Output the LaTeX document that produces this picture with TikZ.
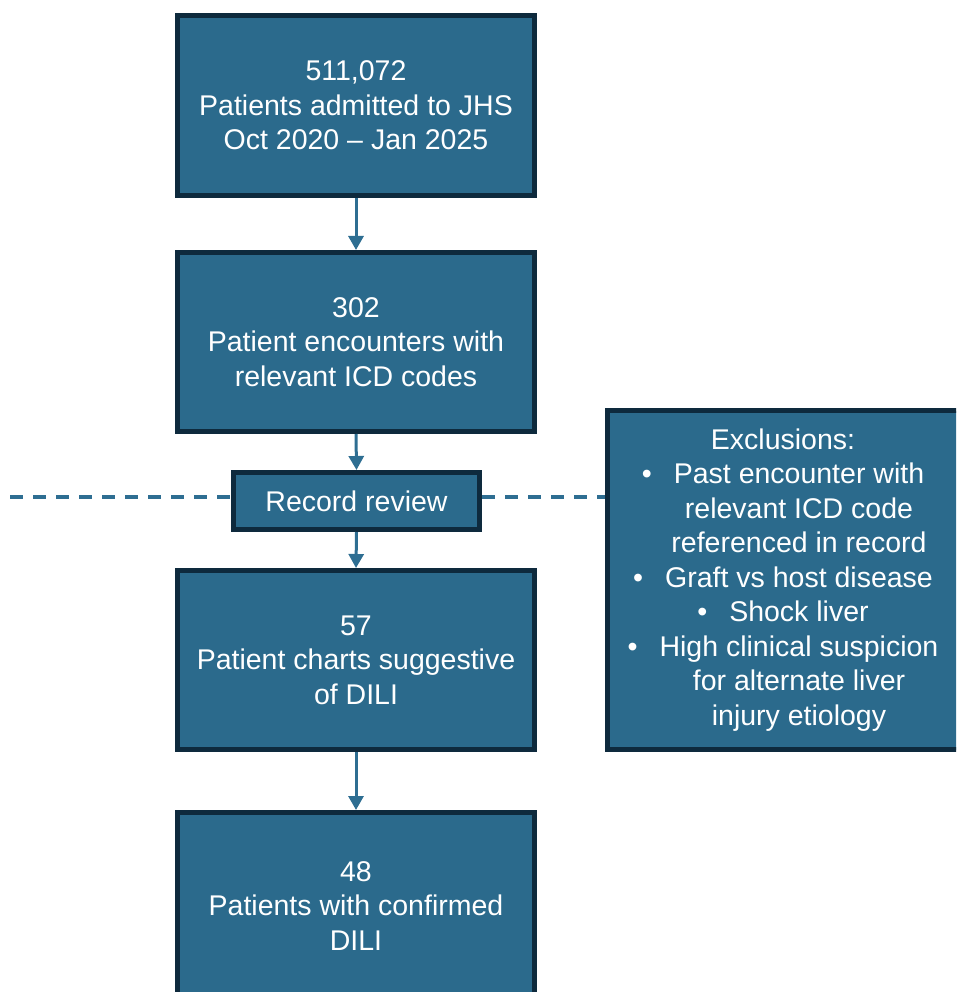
\documentclass[tikz,border=0pt]{standalone}
\usepackage{fontspec}
\setmainfont{Liberation Sans}
\usetikzlibrary{arrows.meta}
\definecolor{boxfill}{HTML}{2B6A8C}
\definecolor{boxline}{HTML}{0E2A3D}
\definecolor{arrowc}{HTML}{2E6E92}
\tikzset{
  flowbox/.style={draw=boxline, line width=5pt, fill=boxfill, text=white,
    align=center, inner sep=0pt, font=\fontsize{28.5}{34.5}\selectfont},
  flowarrow/.style={draw=arrowc, line width=3pt, -{Triangle[width=15pt,length=14pt]}},
  dashline/.style={draw=arrowc, line width=3.5pt, dash pattern=on 13pt off 10pt}
}
\begin{document}
\begin{tikzpicture}[x=1pt,y=-1pt]
\useasboundingbox (0,0) rectangle (956,992);
\clip (0,0) rectangle (956,992);
\node[flowbox, minimum width=357pt, minimum height=180pt] (b1) at (356,105.5)
  {511,072\\Patients admitted to JHS\\Oct 2020 -- Jan 2025};
\node[flowbox, minimum width=357pt, minimum height=179pt] (b2) at (356,342)
  {302\\Patient encounters with\\relevant ICD codes};
\node[flowbox, minimum width=246pt, minimum height=57pt] (rr) at (356.5,501)
  {Record review};
\node[flowbox, minimum width=357pt, minimum height=179pt] (b3) at (356,660)
  {57\\Patient charts suggestive\\of DILI};
\node[flowbox, minimum width=357pt, minimum height=187pt] (b4) at (356,906)
  {48\\Patients with confirmed\\DILI};
\node[flowbox, minimum width=352pt, minimum height=339pt] (ex) at (783,580)
  {Exclusions:\\
   •\hspace{22pt}Past encounter with\\
   \hspace*{32pt}relevant ICD code\\
   \hspace*{32pt}referenced in record\\
   •\hspace{22pt}Graft vs host disease\\
   •\hspace{22pt}Shock liver\\
   •\hspace{22pt}High clinical suspicion\\
   \hspace*{32pt}for alternate liver\\
   \hspace*{32pt}injury etiology};
\coordinate (dl) at (10,497);
\draw[dashline] (dl) -- (rr.west |- dl);
\draw[dashline] (rr.east |- dl) -- (ex.west |- dl);
\draw[flowarrow] (b1.south) -- (b2.north);
\draw[flowarrow] (b2.south) -- (rr.north);
\draw[flowarrow] (rr.south) -- (b3.north);
\draw[flowarrow] (b3.south) -- (b4.north);
\end{tikzpicture}
\end{document}
